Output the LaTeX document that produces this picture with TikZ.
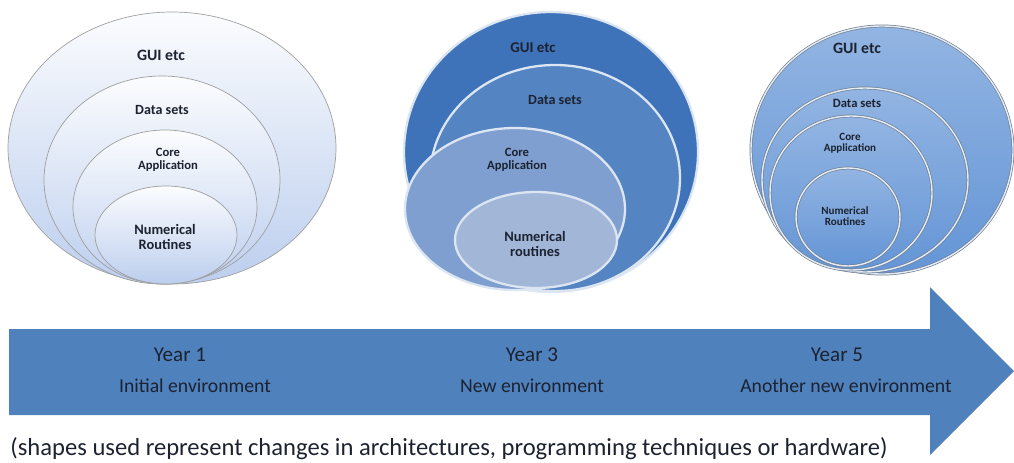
\documentclass[tikz,border=0pt]{standalone}
\usepackage{fontspec}
\setmainfont{Carlito}
\usetikzlibrary{shapes.geometric}

\definecolor{arrowblue}{HTML}{4F81BD}
\definecolor{paleblue}{HTML}{BCCEEE}
\definecolor{deepblue}{HTML}{3E73BA}
\definecolor{midblue}{HTML}{5584C3}
\definecolor{softblue}{HTML}{7F9FD0}
\definecolor{greyblue}{HTML}{A2B6D8}
\definecolor{skyblue}{HTML}{6495D6}
\definecolor{inktext}{HTML}{1C2230}

\begin{document}
\begin{tikzpicture}[x=0.2mm,y=-0.2mm]
    \tikzset{ring/.style={ellipse,inner sep=0pt,minimum width=#1},
      old ring/.style={draw=gray!75,thin,top color=white!94!paleblue,bottom color=paleblue},
      new ring/.style={draw=white!80!arrowblue,line width=1.3pt,fill=#1},
      late ring/.style={draw=gray!70!arrowblue,double=white!85!arrowblue,double distance=0.8pt,
        top color=skyblue!70!white,bottom color=skyblue},
      ring text/.style={text=inktext,align=center,font=\bfseries\fontsize{#1}{#1}\selectfont},
      year text/.style={text=inktext,font=\fontsize{#1}{14}\selectfont}}

    \useasboundingbox (0,0) rectangle (1014,462);

    % year 1
    \node [ring=65.6mm,minimum height=54.4mm,old ring] (L-gui) at (172,148) {};
    \node [ring=47.2mm,minimum height=41.6mm,old ring] (L-data) at (162,180) {};
    \node [ring=36.8mm,minimum height=30.8mm,old ring] (L-core) at (165,207) {};
    \node [ring=28.4mm,minimum height=19.6mm,old ring] (L-num) at (166,235) {};

    \node [ring text=9] (L-gui-text) at (161,55) {GUI etc};
    \node [ring text=8] (L-data-text) at (162,110) {Data sets};
    \node [ring text=7.2] (L-core-text) at (168,160) {Core\\Application};
    \node [ring text=8.2] (L-num-text) at (165,237) {Numerical\\Routines};

    % year 3
    \node [ring=58.8mm,minimum height=56mm,new ring=deepblue] (M-gui) at (551,152) {};
    \node [ring=50mm,minimum height=45.2mm,new ring=midblue] (M-data) at (555,178) {};
    \node [ring=44mm,minimum height=32.4mm,new ring=softblue] (M-core) at (515,209) {};
    \node [ring=32.4mm,minimum height=19.2mm,new ring=greyblue] (M-num) at (536,240) {};

    \node [ring text=8.5] (M-gui-text) at (533,48) {GUI etc};
    \node [ring text=8] (M-data-text) at (555,100) {Data sets};
    \node [ring text=7.2] (M-core-text) at (517,160) {Core\\Application};
    \node [ring text=8.2] (M-num-text) at (535,244) {Numerical\\routines};

    % year 5
    \node [ring=52.4mm,minimum height=49.6mm,late ring] (R-gui) at (882,150) {};
    \node [ring=41.2mm,minimum height=36.8mm,late ring] (R-data) at (865,180) {};
    \node [ring=32.4mm,minimum height=30.8mm,late ring] (R-core) at (851,193) {};
    \node [ring=20.8mm,minimum height=19.6mm,late ring] (R-num) at (848,217) {};

    \node [ring text=9] (R-gui-text) at (857,48) {GUI etc};
    \node [ring text=7.2] (R-data-text) at (857,103) {Data sets};
    \node [ring text=6.3] (R-core-text) at (850,143) {Core\\Application};
    \node [ring text=6.3] (R-num-text) at (845,216) {Numerical\\Routines};

    % time arrow
    \fill [arrowblue] (9,329) -- (930,329) -- (930,287) -- (1014,371)
      -- (930,455) -- (930,415) -- (9,415) -- cycle;

    \node [year text=12] (year-1) at (180,355) {Year 1};
    \node [year text=11.2] (env-1) at (195,386) {Initial environment};
    \node [year text=12] (year-3) at (532,355) {Year 3};
    \node [year text=11.2] (env-3) at (532,386) {New environment};
    \node [year text=12] (year-5) at (837,355) {Year 5};
    \node [year text=11.2] (env-5) at (846,386) {Another new environment};

    \node [text=inktext,font=\fontsize{14}{16}\selectfont] (note) at (449,449)
      {(shapes used represent changes in architectures, programming techniques or hardware)};
  \end{tikzpicture}
\end{document}
